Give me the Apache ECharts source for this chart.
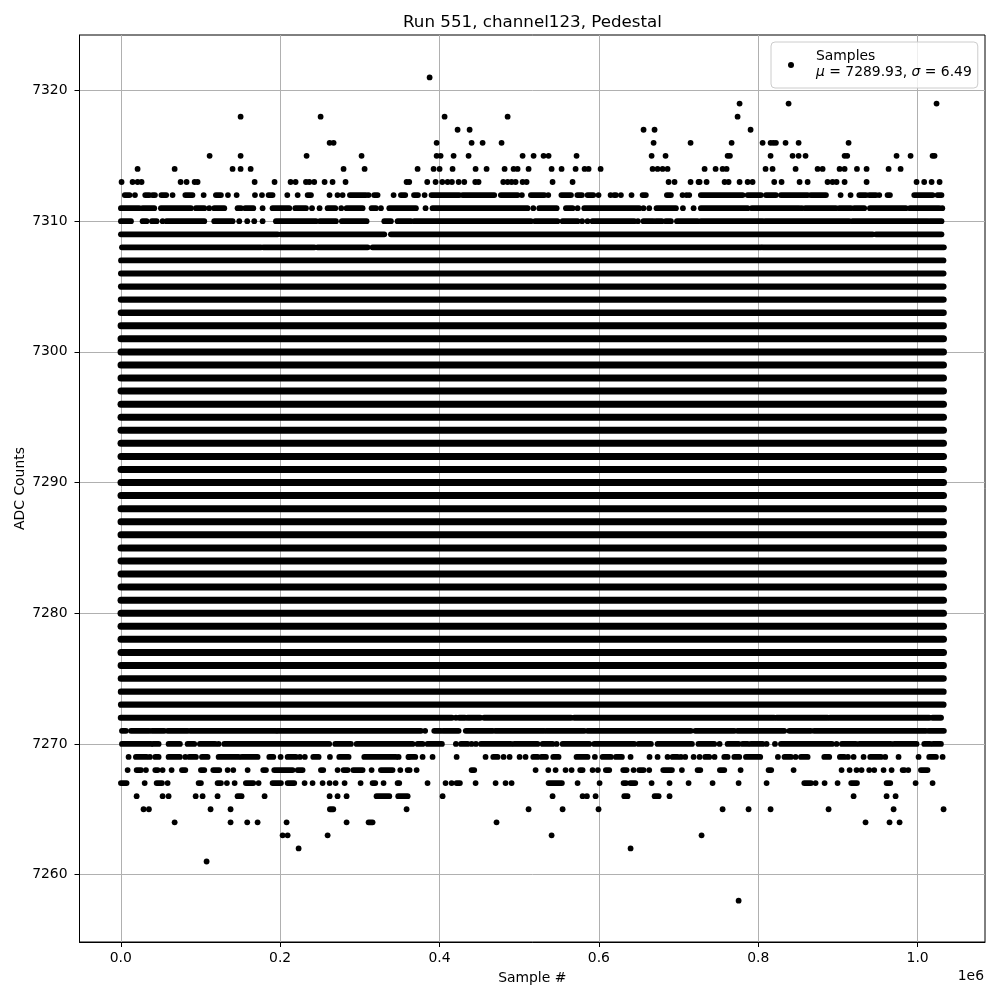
<!DOCTYPE html>
<html><head><meta charset="utf-8">
<style>html,body{margin:0;padding:0;background:#fff}#c{width:1000px;height:1000px}</style>
<script src="https://cdn.jsdelivr.net/npm/echarts@6/dist/echarts.min.js"></script>
</head><body><div id="c"></div>
<script>
// x values are in thousands of samples. A number is one sample, [a,b] is an unbroken run of samples.
const xTicks=[0,200,400,600,800,1000];
const yTicks=[7260,7270,7280,7290,7300,7310,7320];
const row7321=[387.6];
const row7319=[776.6,838.1,1023.8];
const row7318=[150.4,250.8,406.4,485.5,774.1];
const row7317=[422.7,437.8,656.1,669.9,790.4];
const row7316=[262.1,267.1,396.4,440.3,454.1,477.9,668.7,715.1,766.6,805.5,815.5,818.9,822.2,834.3,850.7,913.4];
const row7315=[111.5,150.4,233.2,302.2,396.4,401.4,417.7,436.5,504.3,518.1,530.6,536.9,572,666.2,683.7,761.6,764.5,815.5,843.1,850.7,859.4,908.4,911.7,973.6,991.2,1018.8,1021.3];
const row7314=[21.1,67.6,140.3,150.4,163,279.6,306,372.5,392.6,400.1,416.4,445.3,459.1,481.7,493,498,511.8,540.7,553.2,570.8,582.1,587.1,602.2,667.4,673.7,680,686.2,732.7,746.5,755.3,760.3,809.2,818,846.9,874.5,880.8,902.1,908.4,923.9,936,963.6,978.7];
const row7313=[1,14.8,21.1,26.1,75.1,82.6,92.7,96.4,168,193,213.1,219.4,232.4,236.6,242.8,255.8,265.8,282.1,358.7,362,384.6,395.1,403.5,410.2,415.6,424,431.1,444.9,449,480,485.5,490.5,495.5,504.3,509.3,541.9,567,687.5,695,715.1,725.1,726.4,735.2,757.8,762.8,776.6,786.7,792.9,820.1,829.3,851.9,862,887,893.3,898.3,908.4,936,998.7,1008.3,1017.6,1027.6];
const row7312=[[5,11],17.8,[30.7,35.8],[40,42.9],[51,57],65,[81,90],104,[119.4,125.7],134.5,145.4,168.4,177.2,[185.5,190.5],209,222,[234.5,238.7],262,272,278.4,[287.6,307.7],311,[318,322.3],342.4,[351.6,357],[368,373],381.3,[390,424.8],[429,468.7],[477,498],503.4,[514.7,531.5],536.5,[553,565],[573,578.7],[585.8,593],599.6,614.7,[619.3,621.4],627.7,641,[654.9,659],[685.4,690.4],705,710,713.4,[728,780.4],[786.7,803.4],[809.7,822.2],[828.5,862],[866,885],903.4,915.9,[926.8,935.2],[939.3,947.7],951.9,[962.3,965.3],[995.8,1018.8],[1025,1030]];
const row7311=[[0.2,23.2],[27.4,42],[50.4,88],[94.3,104.8],111,[117.3,129.9],[146.6,150.8],[156.2,166.3],178,[190.5,211.5],[219,232.4],240,249.5,[259.6,269.2],276.7,[283.4,303.5],[314.8,320.2],326.5,[337,370.4],382.5,[391.3,510.5],517.7,[525.2,547],[558.7,567],573.3,[581.7,650.7],656,663.2,[672.4,696.7],705.5,718.9,[728,786.7],[792,851.5],854.8,[859,897.5],[901.7,916.3],[920.5,933],[940.2,985.3],[990.4,1027.2],1031];
const row7310=[[0.2,12.8],[27.4,32.4],[39.1,45],52.5,[57.5,104.8],[117.3,140.3],148.7,158.7,167.5,178,[194.7,245],[250,270],[277.5,308.5],[330.7,339],[347.4,364],[368.3,514.7],[520,548],[554.5,573.3],579,585.8,[592,644.4],649,[656,668.2],[671.6,679],[684,690.4],[698,723.9],[728,778.3],[781,805.5],[808.8,914.2],[918.4,1012.5],[1015.5,1030]];
const row7309=[[0.2,196.8],[201,330.7],[339,943.5],[947.7,1030]];
const row7308=[[1.5,176],[179,243],[247,309.8],[316,803.5],[805.5,1033]];
const denseLevels=[7273,7274,7275,7276,7277,7278,7279,7280,7281,7282,7283,7284,7285,7286,7287,7288,7289,7290,7291,7292,7293,7294,7295,7296,7297,7298,7299,7300,7301,7302,7303,7304,7305,7306,7307];
const denseRun=[[0.3,1032.5]];
const row7272=[[0,415.6],420.6,[424.8,432],[435.3,451.1],[456,565],[569,820],[823,887],[890,1014.6],[1018.8,1029.3]];
const row7271=[[1.5,6.5],[12.8,35.8],[39,54.6],[58.8,83.9],[87.2,194.7],[196.8,376.7],382,[393.4,401.8],[404.7,424],[433,466.6],[470,531.5],[534.4,581.7],[585.8,715.5],[721,770],[774,832.7],[839,866],[870,1010.4],[1013.8,1033]];
const row7270=[[1.5,37.9],[40.8,47.5],[60,74.2],[83.9,92.2],[99.3,118.6],122.8,[129.9,261.6],[269.2,288.8],[296,366.2],[372.5,378.8],[385,403],420.6,[426.9,435.3],440.3,445.7,[452,489.6],[493.8,523],[529.4,541.9],547,[554.5,588],[594.2,644.4],[649.8,665.3],[673.7,716.8],[725,744.8],751.5,[761.6,775.4],[780.4,786.7],[790.8,805.5],810.5,821,[828.5,892.5],898.3,[905,922.6],[926.8,966.5],[970.7,998.7],[1008.4,1015.5],[1019.6,1029.3]];
const row7269=[9.8,[19,32.4],36.6,[43.3,47.5],[60,74.2],81,[86,94.3],[101.9,109],[122.8,147.9],[152,171.7],[186.4,191.4],200.6,[209.4,219.8],224.8,231,[241.6,248.3],262.5,[274.2,285.9],[305.6,345.3],348.7,361,[362,369.6],378.8,391.3,421.5,457.8,[467.5,472.9],480.4,488,500.5,508,[517.7,523.1],[528,533.6],[542.8,549.4],[572,585.8],595,[604.7,615.1],[621.4,628.9],639.8,663.6,673.7,686.2,[692.5,698.8],703,708.4,718.9,726.4,[733.5,738.5],745.2,[757.4,761.6],[770,776.2],[784.6,802.5],824.7,[833,841],846.9,[853.6,862],[882.9,889.1],[902.5,908],912.6,919.7,932.2,[940.6,954],959.4,976.1,1001.2,[1014.6,1023],1031.4];
const row7268=[8.6,[19.9,25.3],31.6,[43.3,46.2],52.5,63.8,[76.8,81],[100.6,104.8],[116.1,123.6],134.1,141.2,159.2,[178.8,182.2],[192.6,215.6],[222,228.2],[251.2,254.1],272.1,[279.6,284.7],[291.8,303.5],314.8,[326.5,341.1],350.8,360,362.5,371.3,[440.3,443.6],520.6,536.5,545.7,558.2,565.8,[576.6,579.6],592.1,598.8,[608.8,613],[630.6,634.8],643.6,[650.7,656.1],663.2,[680.8,691.7],704.2,[723.9,727.3],[751.9,757.4],777.9,[813,816.3],844.4,904.6,914.7,923.4,929.7,939.3,945.6,957.3,967.4,[981.2,983.3],988.3,[1004.2,1012.5]];
const row7267=[[0.2,7.3],30,[45,51.7],58.8,[97.7,100.6],[121.5,125.7],133.2,142.9,[157,166.3],173,[190.5,201],[209.4,217.7],230.7,240.7,253.3,262.1,269.6,280.9,301,[316,319.4],329.8,347.4,349.5,385,407.6,415.2,[421.4,425.6],445.3,470.4,482.9,490.5,[536.9,553.6],573.3,600.9,[631,634],[639.4,645.7],666.2,688.7,712.6,742.7,775.4,810.5,[857.8,866.1],872,883.3,899.6,[916.7,923.9],[961.1,965.7],997.5,1018.8];
const row7266=[19.9,52.5,60,94,102.7,121.5,[146.6,151.6],180.5,262.1,272.1,283.4,[321,337],[348.2,360],403.9,541.9,579.6,585,595.9,[631.9,636],[670,675],688.7,919.7,961.1,972.4];
const row7265=[28.6,35.3,112.7,137.8,[262.5,266.7],358.7,511.8,554.5,599.6,755.3,787.9,815.5,888.3,969.9,1032.6];
const row7264=[67.6,137.8,158.7,171.7,208.1,283.4,[311,316],471.6,934.7,964.8,977.4];
const row7263=[203.1,209.4,259.6,540.7,728.9];
const row7262=[223.2,639.8];
const row7261=[107.7];
const row7258=[775.4];

const levelRows=[[7321,row7321],[7319,row7319],[7318,row7318],[7317,row7317],[7316,row7316],[7315,row7315],[7314,row7314],[7313,row7313],[7312,row7312],[7311,row7311],[7310,row7310],[7309,row7309],[7308,row7308],[7272,row7272],[7271,row7271],[7270,row7270],[7269,row7269],[7268,row7268],[7267,row7267],[7266,row7266],[7265,row7265],[7264,row7264],[7263,row7263],[7262,row7262],[7261,row7261],[7258,row7258]];
denseLevels.forEach(l=>levelRows.push([l,denseRun]));
const points=[],runs=[];
levelRows.forEach(([lvl,row])=>row.forEach(e=>{
  if(Array.isArray(e)) runs.push([lvl,e[0],e[1]]); else points.push([e,lvl]);
}));
const F='"DejaVu Sans"',S=13.9,D=5.8;
// overlapping markers read darker and wider toward the crowded middle rows
const rowWidth=l=>{const d=l>7301?l-7301:(l<7277?7277-l:0);return Math.max(D,7-0.2*d);};
const chart=echarts.init(document.getElementById('c'),null,{renderer:'canvas'});
const axisCommon={type:'value',
  axisLine:{show:true,onZero:false,lineStyle:{color:'#000',width:1}},
  axisLabel:{color:'#000',fontSize:S,fontFamily:F},
  splitLine:{show:true,lineStyle:{color:'#b0b0b0',width:1}},
  axisTick:{show:true,length:5,lineStyle:{color:'#000',width:1}},
  nameLocation:'middle',nameMoveOverlap:false,nameTextStyle:{color:'#000',fontSize:S,fontFamily:F}};
chart.setOption({
  animation:false,backgroundColor:'#fff',textStyle:{fontFamily:F},
  title:{text:'Run 551, channel123, Pedestal',left:398,top:9,
    textStyle:{fontSize:16.7,fontWeight:'normal',color:'#000',fontFamily:F}},
  grid:{left:79.5,right:15,top:35,bottom:58,show:true,borderColor:'#000',borderWidth:1,backgroundColor:'#fff'},
  legend:{left:771,top:42,orient:'vertical',padding:[6,6,6,17],icon:'circle',itemWidth:6,itemHeight:6,
    backgroundColor:'rgba(255,255,255,0.8)',borderColor:'#ccc',borderWidth:1,borderRadius:4,
    data:['Samples'],
    formatter:()=>'Samples\n{i|μ} = 7289.93, {i|σ} = 6.49',
    textStyle:{color:'#000',fontSize:S,fontFamily:F,lineHeight:16,padding:[0,0,2,17],
      rich:{i:{fontStyle:'italic',fontSize:S,fontFamily:F,color:'#000',lineHeight:16}}}},
  xAxis:Object.assign({},axisCommon,{min:-51.8,max:1084.6,name:'Sample #',nameGap:29,
    axisTick:Object.assign({},axisCommon.axisTick,{customValues:xTicks}),
    axisLabel:Object.assign({},axisCommon.axisLabel,{customValues:xTicks,margin:9,formatter:v=>(v/1000).toFixed(1)})}),
  yAxis:Object.assign({},axisCommon,{min:7254.84,max:7324.25,name:'ADC Counts',nameGap:52,
    axisTick:Object.assign({},axisCommon.axisTick,{customValues:yTicks}),
    axisLabel:Object.assign({},axisCommon.axisLabel,{customValues:yTicks,margin:12,formatter:v=>String(v)})}),
  graphic:[{type:'text',right:16,top:969,style:{text:'1e6',fontSize:S,fontFamily:F,fill:'#000'}}],
  series:[
    {name:'Samples',type:'scatter',data:points,symbol:'circle',symbolSize:D,itemStyle:{color:'#000',opacity:1},z:3},
    {name:'Sample runs',type:'custom',data:runs,z:3,clip:true,encode:{x:[1,2],y:0},
     renderItem:(p,api)=>{
       const a=api.coord([api.value(1),api.value(0)]),b=api.coord([api.value(2),api.value(0)]);
       return {type:'line',shape:{x1:a[0],y1:a[1],x2:b[0],y2:b[1]},
         style:{stroke:'#000',lineWidth:rowWidth(api.value(0)),lineCap:'round',fill:null}};
     }}
  ]
});
</script></body></html>
